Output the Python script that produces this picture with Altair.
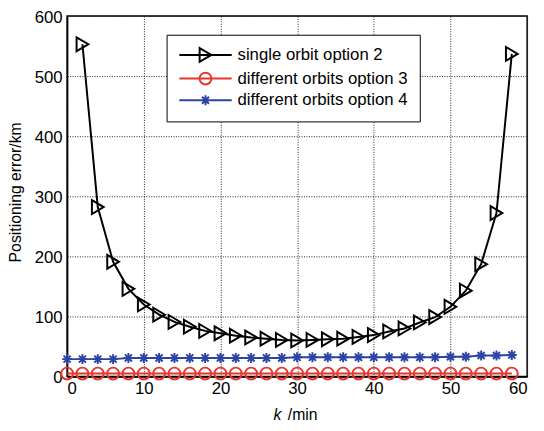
import altair as alt
import pandas as pd

# ---- data ----
series_names = ["single orbit option 2", "different orbits option 3", "different orbits option 4"]
series_colors = ["#000000", "#e8352c", "#2c45a5"]

k_single2 = [2, 4, 6, 8, 10, 12, 14, 16, 18, 20, 22, 24, 26, 28, 30,
             32, 34, 36, 38, 40, 42, 44, 46, 48, 50, 52, 54, 56, 58]
err_single2 = [553, 282, 191, 146, 120, 103, 91, 83, 76, 72, 68, 65, 63, 61, 60,
               61, 62, 63, 66, 69, 75, 80, 90, 99, 116, 143, 187, 272, 537]

k_diff = [0, 2, 4, 6, 8, 10, 12, 14, 16, 18, 20, 22, 24, 26, 28,
          30, 32, 34, 36, 38, 40, 42, 44, 46, 48, 50, 52, 54, 56, 58]
err_diff3 = [5, 5, 5, 5, 5, 5, 5, 5, 5, 5, 5, 5, 5, 5, 5,
             5, 5, 5, 5, 5, 5, 5, 5, 5, 5, 5, 5, 5, 5, 5]
err_diff4 = [29, 29, 29, 29, 31, 31, 31, 31, 31, 31, 31, 31, 31, 31, 31,
             32, 32, 32, 32, 32, 32, 32, 32, 32, 32, 33, 33, 35, 35, 36]

x_ticks = [0, 10, 20, 30, 40, 50, 60]
y_ticks = [0, 100, 200, 300, 400, 500, 600]

df = pd.concat([
    pd.DataFrame({"k": k_single2, "err": err_single2, "series": series_names[0]}),
    pd.DataFrame({"k": k_diff, "err": err_diff3, "series": series_names[1]}),
    pd.DataFrame({"k": k_diff, "err": err_diff4, "series": series_names[2]}),
], ignore_index=True)

# marker shapes (custom symbol paths, unit ~[-1,1])
tri = "M-0.85,-1L0.85,0L-0.85,1Z"
circ = "M0.86,0A0.86,0.86,0,1,1,-0.86,0A0.86,0.86,0,1,1,0.86,0Z"
star = "M0,-0.72L0,0.72M-0.72,0L0.72,0M-0.51,-0.51L0.51,0.51M-0.51,0.51L0.51,-0.51"
markers = [tri, circ, star]
leg_line = "M-3.8,0L3.8,0"
legend_shapes = [leg_line + m for m in markers]

FONT = "Liberation Sans"

x_scale = alt.Scale(domain=[0, 60], nice=False, zero=False)
y_scale = alt.Scale(domain=[0, 600], nice=False)

x_enc = alt.X("k:Q", scale=x_scale,
              axis=alt.Axis(values=x_ticks, title="/min", titleX=223.5, titleY=43.5,
                            titleAlign="left", titleBaseline="alphabetic",
                            labelPadding=4, grid=True))
y_enc = alt.Y("err:Q", scale=y_scale,
              axis=alt.Axis(values=y_ticks, title="Positioning error/km",
                            titleX=-47.5, titleY=178.5, titleAngle=270,
                            titleAlign="center", titleBaseline="alphabetic",
                            labelPadding=5, labelOffset=1.5, grid=True))

base = alt.Chart(df)
layers = []
for name, col, mk in zip(series_names, series_colors, markers):
    sub = base.transform_filter(alt.datum.series == name)
    layers.append(sub.mark_line(color=col, strokeWidth=2).encode(x=x_enc, y=y_enc))
    layers.append(sub.mark_point(shape=mk, filled=False, size=196, strokeWidth=2,
                                 color=col, opacity=1).encode(x=x_enc, y=y_enc))
inner = alt.layer(*layers)

leg = alt.Legend(title=None, orient="none", legendX=101, legendY=19, padding=12,
                 strokeColor="black", fillColor="white", symbolSize=196,
                 symbolStrokeWidth=2, symbolOffset=19, labelOffset=24, rowPadding=2,
                 labelFont=FONT, labelFontSize=17, labelColor="black",
                 symbolFillColor="transparent", labelLimit=400)

legend_layer = base.transform_filter("false").mark_point(
    filled=False, size=196, strokeWidth=2, opacity=1
).encode(
    x=alt.X("k:Q", scale=x_scale,
            axis=alt.Axis(orient="bottom", values=x_ticks, title="k", titleFontStyle="italic",
                          labels=False, ticks=False, domain=False, grid=False,
                          titleX=209, titleY=43.5, titleAlign="left",
                          titleBaseline="alphabetic")),
    y=y_enc,
    color=alt.Color("series:N", scale=alt.Scale(domain=series_names, range=series_colors),
                    legend=leg),
    shape=alt.Shape("series:N", scale=alt.Scale(domain=series_names, range=legend_shapes),
                    legend=leg),
)

chart = alt.layer(inner, legend_layer).resolve_axis(x="independent").properties(
    width=467, height=366,
    autosize=alt.AutoSizeParams(type="none"),
    padding={"left": 60, "top": 5, "right": 9, "bottom": 44},
).configure_view(
    stroke="black", strokeWidth=1.5
).configure_axis(
    labelFont=FONT, labelFontSize=17, labelColor="black",
    titleFont=FONT, titleFontSize=16, titleColor="black", titleFontWeight="normal",
    gridColor="#222222", gridDash=[1, 1.5], gridWidth=1, gridOpacity=1,
    domainColor="black", domainWidth=1.5, ticks=False, tickSize=0,
)

chart.save("out.html", embed_options={"renderer": "svg", "actions": False})
